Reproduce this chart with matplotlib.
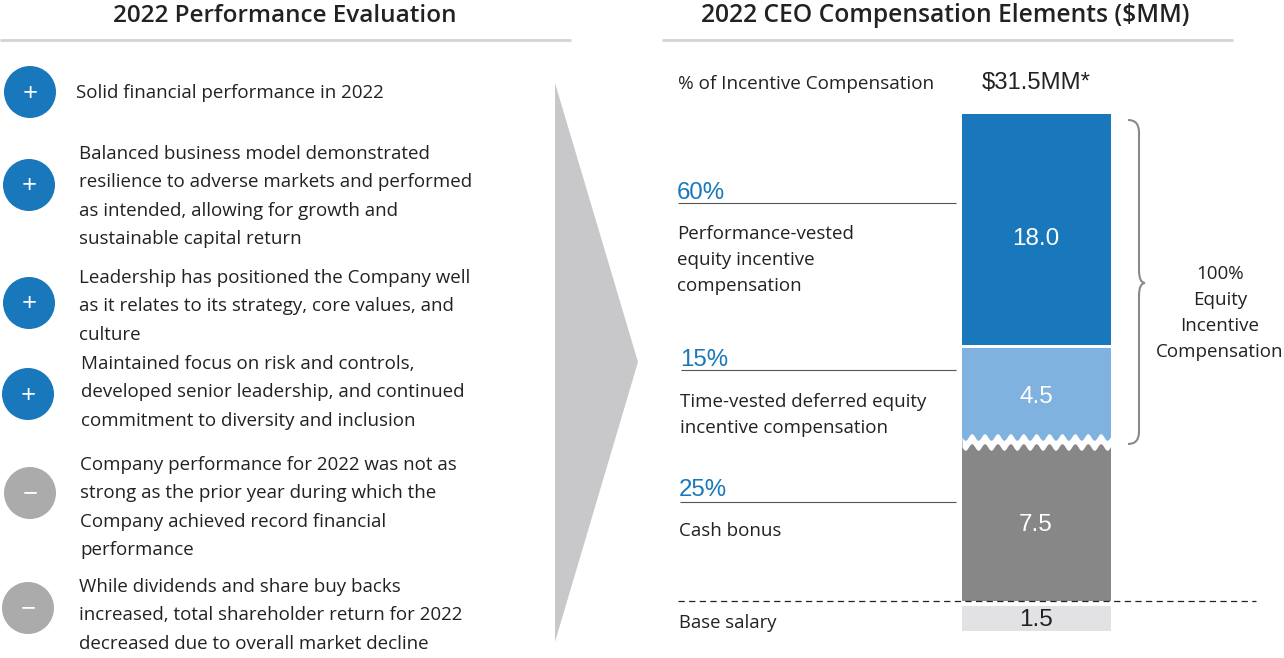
import numpy as np
import matplotlib
matplotlib.use('Agg')
import matplotlib.pyplot as plt
from matplotlib.path import Path
from matplotlib.patches import PathPatch, Polygon, Circle

plt.rcParams['font.family'] = ['Open Sans', 'DejaVu Sans']

# Datos
left_title = '2022 Performance Evaluation'
right_title = '2022 CEO Compensation Elements ($MM)'
eval_signs = ['+', '+', '+', '+', '\u2212', '\u2212']
eval_texts = [
    ['Solid financial performance in 2022'],
    ['Balanced business model demonstrated',
     'resilience to adverse markets and performed',
     'as intended, allowing for growth and',
     'sustainable capital return'],
    ['Leadership has positioned the Company well',
     'as it relates to its strategy, core values, and',
     'culture'],
    ['Maintained focus on risk and controls,',
     'developed senior leadership, and continued',
     'commitment to diversity and inclusion'],
    ['Company performance for 2022 was not as',
     'strong as the prior year during which the',
     'Company achieved record financial',
     'performance'],
    ['While dividends and share buy backs',
     'increased, total shareholder return for 2022',
     'decreased due to overall market decline'],
]
bar_values = ['18.0', '4.5', '7.5', '1.5']
# heights as drawn in the picture, the original scale is broken
bar_drawn = [231, 94, 159, 25]
bar_tops = [114, 348, 442, 606]
bar_colors = ['#1878bb', '#7fb2de', '#878787', '#e2e2e4']
pct_labels = ['60%', '15%', '25%']
pct_names = [
    ['Performance-vested', 'equity incentive', 'compensation'],
    ['Time-vested deferred equity', 'incentive compensation'],
    ['Cash bonus'],
]

fig = plt.figure(figsize=(12.84, 6.58), dpi=100)
ax = fig.add_axes([0, 0, 1, 1])
ax.set_xlim(0, 1284)
ax.set_ylim(658, 0)
ax.axis('off')

# Cabeceras
ax.text(285, 16, left_title, fontsize=17.5, fontweight='semibold', color='#222222', ha='center', va='center')
ax.text(945, 16, right_title, fontsize=17.7, fontweight='semibold', color='#222222', ha='center', va='center')
ax.plot([0, 571], [39.5, 39.5], color='#d2d3d3', lw=2, solid_capstyle='butt')
ax.plot([662, 1233], [39.5, 39.5], color='#d2d3d3', lw=2, solid_capstyle='butt')

# Columna izquierda
circle_x = [30, 29, 29, 28, 30, 28]
circle_y = [92, 185, 303, 394, 493, 608]
text_x = [76, 79, 79, 81, 80, 79]
text_y = [93, 154, 278, 364, 465, 587]
for i in range(6):
    col = '#1878bb' if eval_signs[i] == '+' else '#ababab'
    ax.add_patch(Circle((circle_x[i], circle_y[i]), 26, color=col, lw=0))
    ax.text(circle_x[i], circle_y[i] + 2, eval_signs[i], color='white', fontsize=19, ha='center', va='center')
    for j, line in enumerate(eval_texts[i]):
        ax.text(text_x[i], text_y[i] + j * 28.4, line, fontsize=13.5, color='#222222', va='center')

# Flecha
ax.add_patch(Polygon([(555, 83), (638, 362), (555, 642)], color='#c8c8ca', lw=0))

# Barras
ax.bar([1036.5] * 4, bar_drawn, bottom=bar_tops, width=149, color=bar_colors, linewidth=0)
label_y = [239, 397, 525, 620]
for i in range(4):
    col = '#222222' if i == 3 else 'white'
    ax.text(1036, label_y[i], bar_values[i], color=col,
            fontsize=17.5, family='Liberation Sans', ha='center', va='center')

# Corte ondulado entre barras
xw = np.linspace(962, 1111, 300)
wave = 442 + 3.3 * np.sin((xw - 962) / 12.9 * 2 * np.pi)
ax.fill_between(xw, wave - 5, wave + 5, color='white', lw=0, zorder=4)

# Porcentajes
pct_x = [677, 680, 679]
pct_y = [193, 360, 490]
rule_y = [203, 370, 502]
rule_x = [678, 681, 680]
name_y = [234, 402, 531]
for i in range(3):
    ax.text(pct_x[i], pct_y[i], pct_labels[i], color='#1878bb', fontsize=17.3, family='Liberation Sans', va='center')
    ax.plot([rule_x[i], 956], [rule_y[i], rule_y[i]], color='#555555', lw=0.8, solid_capstyle='butt')
    for j, line in enumerate(pct_names[i]):
        ax.text(rule_x[i] - 1, name_y[i] + j * 26, line, fontsize=13.5, color='#222222', va='center')

ax.text(678, 84, '% of Incentive Compensation', fontsize=13.6, color='#222222', va='center')
ax.text(1036, 83, '$31.5MM*', fontsize=17.2, family='Liberation Sans', color='#222222', ha='center', va='center')
ax.text(679, 623, 'Base salary', fontsize=13.3, color='#222222', va='center')
ax.plot([678, 1256], [601, 601], color='#222222', lw=0.9, ls=(0, (5, 3.5)))

# Llave
brace = Path(
    [(1128, 120), (1139, 120), (1139, 132), (1139, 270), (1139, 283), (1145, 283),
     (1139, 283), (1139, 296), (1139, 432), (1139, 444), (1128, 444)],
    [Path.MOVETO, Path.CURVE3, Path.CURVE3, Path.LINETO, Path.CURVE3, Path.CURVE3,
     Path.CURVE3, Path.CURVE3, Path.LINETO, Path.CURVE3, Path.CURVE3])
ax.add_patch(PathPatch(brace, fill=False, edgecolor='#8a8a8a', lw=1.5))
brace_text = ['100%', 'Equity', 'Incentive', 'Compensation']
for j, line in enumerate(brace_text):
    ax.text(1220, 274 + j * 26, line, fontsize=13.5, color='#222222', ha='center', va='center')

fig.savefig('out.png', dpi=100)
